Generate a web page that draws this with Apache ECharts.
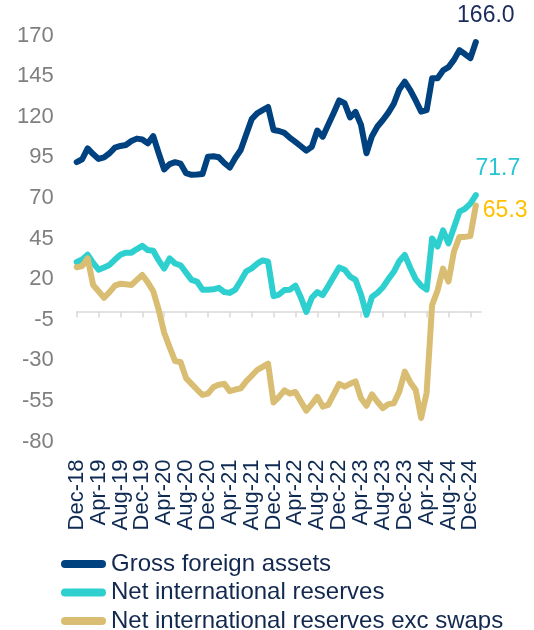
<!DOCTYPE html>
<html><head><meta charset="utf-8">
<script src="https://cdn.jsdelivr.net/npm/echarts/dist/echarts.min.js"></script>
<style>html,body{margin:0;padding:0;background:#fff}#c{width:534px;height:630px}</style>
</head><body><div id="c"></div>
<script>
const categories = [
  'Dec-18',
  'Jan-19','Feb-19','Mar-19','Apr-19','May-19','Jun-19','Jul-19','Aug-19','Sep-19','Oct-19','Nov-19','Dec-19',
  'Jan-20','Feb-20','Mar-20','Apr-20','May-20','Jun-20','Jul-20','Aug-20','Sep-20','Oct-20','Nov-20','Dec-20',
  'Jan-21','Feb-21','Mar-21','Apr-21','May-21','Jun-21','Jul-21','Aug-21','Sep-21','Oct-21','Nov-21','Dec-21',
  'Jan-22','Feb-22','Mar-22','Apr-22','May-22','Jun-22','Jul-22','Aug-22','Sep-22','Oct-22','Nov-22','Dec-22',
  'Jan-23','Feb-23','Mar-23','Apr-23','May-23','Jun-23','Jul-23','Aug-23','Sep-23','Oct-23','Nov-23','Dec-23',
  'Jan-24','Feb-24','Mar-24','Apr-24','May-24','Jun-24','Jul-24','Aug-24','Sep-24','Oct-24','Nov-24','Dec-24',
  'Jan-25','Feb-25'
];
const seriesNames = ['Gross foreign assets', 'Net international reserves', 'Net international reserves exc swaps'];
const grossForeignAssets = [
  92, 93.8, 100.5, 97, 94, 95, 97.5, 101, 102, 102.6, 105, 106.5, 106,
  103.6, 108, 97.5, 87.5, 90.8, 92, 91.1, 85.2, 84.2, 84.4, 84.7, 95.4,
  95.6, 95, 91.5, 88.7, 94.6, 99.5, 109, 118.5, 122, 124, 126,
  111.8, 111.2, 110, 107, 104.5, 101.8, 99.1, 101.5, 111.5, 107.7, 115, 122.3,
  130, 128.3, 119.5, 123, 115, 97.5, 108, 114, 118, 122.5, 128, 136.8,
  141.6, 136.4, 130, 123.1, 124, 143.7, 143.7, 148.5, 150.5, 155, 161, 158.6,
  156, 166.0
];
const netInternationalReserves = [
  30.5, 32, 35, 30, 25.8, 27.2, 28.7, 32, 35, 36.3, 36.3, 38.5, 40.5,
  37.9, 37.5, 31.5, 26.5, 32.8, 29.6, 28.5, 24, 19.5, 18.5, 13.5, 13.4,
  13.7, 14.6, 12, 11.5, 13.5, 19, 24.8, 26.6, 29.5, 31.5, 30.7,
  9.5, 10.5, 13.3, 13.5, 16, 8.7, -0.2, 8.5, 12, 10.2, 15.7, 21.5,
  27.2, 25.8, 21.5, 19.5, 10.5, -2, 9, 11.5, 15, 20, 24.5, 31,
  34.9, 27, 20, 16, 13.5, 45, 40, 50, 42, 51.8, 61.5, 63.3,
  66.5, 71.7
];
const nirExcSwaps = [
  27.3, 28, 32.8, 16.4, 12.5, 8.5, 12, 16, 17.2, 16.8, 16.4, 19.5, 22.5,
  18, 12.5, 1, -13, -22, -30.5, -31, -41, -44.5, -48, -51.3, -50.5,
  -46.5, -45, -44.5, -49, -48, -47.3, -43, -39.5, -36, -34, -32,
  -56, -52.5, -48.5, -50.5, -49.5, -55.3, -61, -57, -52.5, -58.5, -57.5, -51,
  -44.5, -46.2, -44.5, -43, -53.4, -58, -51, -55.5, -59.5, -57, -56.5, -49.3,
  -37, -43.5, -48.3, -65.5, -50, 4, 13, 26.5, 18.5, 37, 46, 46,
  46.5, 65.3
];
const yMin = -80, yMax = 170, yStep = 25;

const FONT = '"Liberation Sans", Arial, sans-serif';
const colors = ['#00427F', '#2ECFCF', '#D9BD72'];
const endLabelStyles = [
  {position: 'top', distance: 14, offset: [10, 0], color: '#1A2A5A'},
  {position: 'top', distance: 14, offset: [22, 0], color: '#27C4D4'},
  {position: 'right', distance: 6, offset: [0, 5], color: '#FFC000'}
];
function withEndLabel(arr, ls) {
  return arr.map(function (v, i) {
    if (i !== arr.length - 1) return v;
    return {
      value: v, symbol: 'circle', symbolSize: 2,
      label: {show: true, position: ls.position, distance: ls.distance, offset: ls.offset,
        color: ls.color, fontSize: 23, fontFamily: FONT,
        formatter: function (p) { return Number(p.value).toFixed(1); }}
    };
  });
}
const allData = [grossForeignAssets, netInternationalReserves, nirExcSwaps];
const series = allData.map(function (arr, k) {
  return {
    name: seriesNames[k], type: 'line', xAxisIndex: 0, yAxisIndex: 0,
    data: withEndLabel(arr, endLabelStyles[k]),
    symbol: 'none', showSymbol: true, showAllSymbol: true,
    itemStyle: {color: colors[k]},
    lineStyle: {color: colors[k], width: 6, cap: 'round', join: 'round'},
    label: {show: false},
    emphasis: {disabled: true},
    z: 2 + k
  };
});

const chart = echarts.init(document.getElementById('c'), null, {renderer: 'canvas'});
chart.setOption({
  animation: false,
  backgroundColor: '#ffffff',
  grid: {left: 76.7, right: 52.7, top: 35.5, bottom: 188.5, containLabel: false},
  xAxis: [
    {
      type: 'category', data: categories, boundaryGap: false, position: 'bottom',
      axisLine: {show: false, onZero: false}, axisTick: {show: false}, splitLine: {show: false},
      axisLabel: {rotate: 90, interval: 3, fontSize: 22, color: '#0E2A52', margin: 18, fontFamily: FONT}
    },
    {
      type: 'category', data: categories, boundaryGap: false, position: 'bottom',
      axisLine: {show: true, onZero: true, lineStyle: {color: '#D9D9D9', width: 1.5}},
      axisTick: {show: true, interval: 3, length: 6, lineStyle: {color: '#D9D9D9', width: 1.5}},
      axisLabel: {show: false}, splitLine: {show: false}
    }
  ],
  yAxis: {
    type: 'value', min: yMin, max: yMax, interval: yStep,
    axisLine: {show: false}, axisTick: {show: false}, splitLine: {show: false},
    axisLabel: {fontSize: 22, color: '#7F7F7F', margin: 23, fontFamily: FONT}
  },
  legend: {
    orient: 'vertical', left: 61, top: 552, height: 100, width: 470, padding: 0,
    itemWidth: 45, itemHeight: 8, itemGap: 4.5,
    icon: 'path://M4,0H41A4,4,0,0,1,41,8H4A4,4,0,0,1,4,0Z',
    selectedMode: false,
    textStyle: {fontSize: 24, color: '#13284F', fontFamily: FONT, lineHeight: 22},
    data: seriesNames
  },
  series: series
});
</script>
</body></html>
